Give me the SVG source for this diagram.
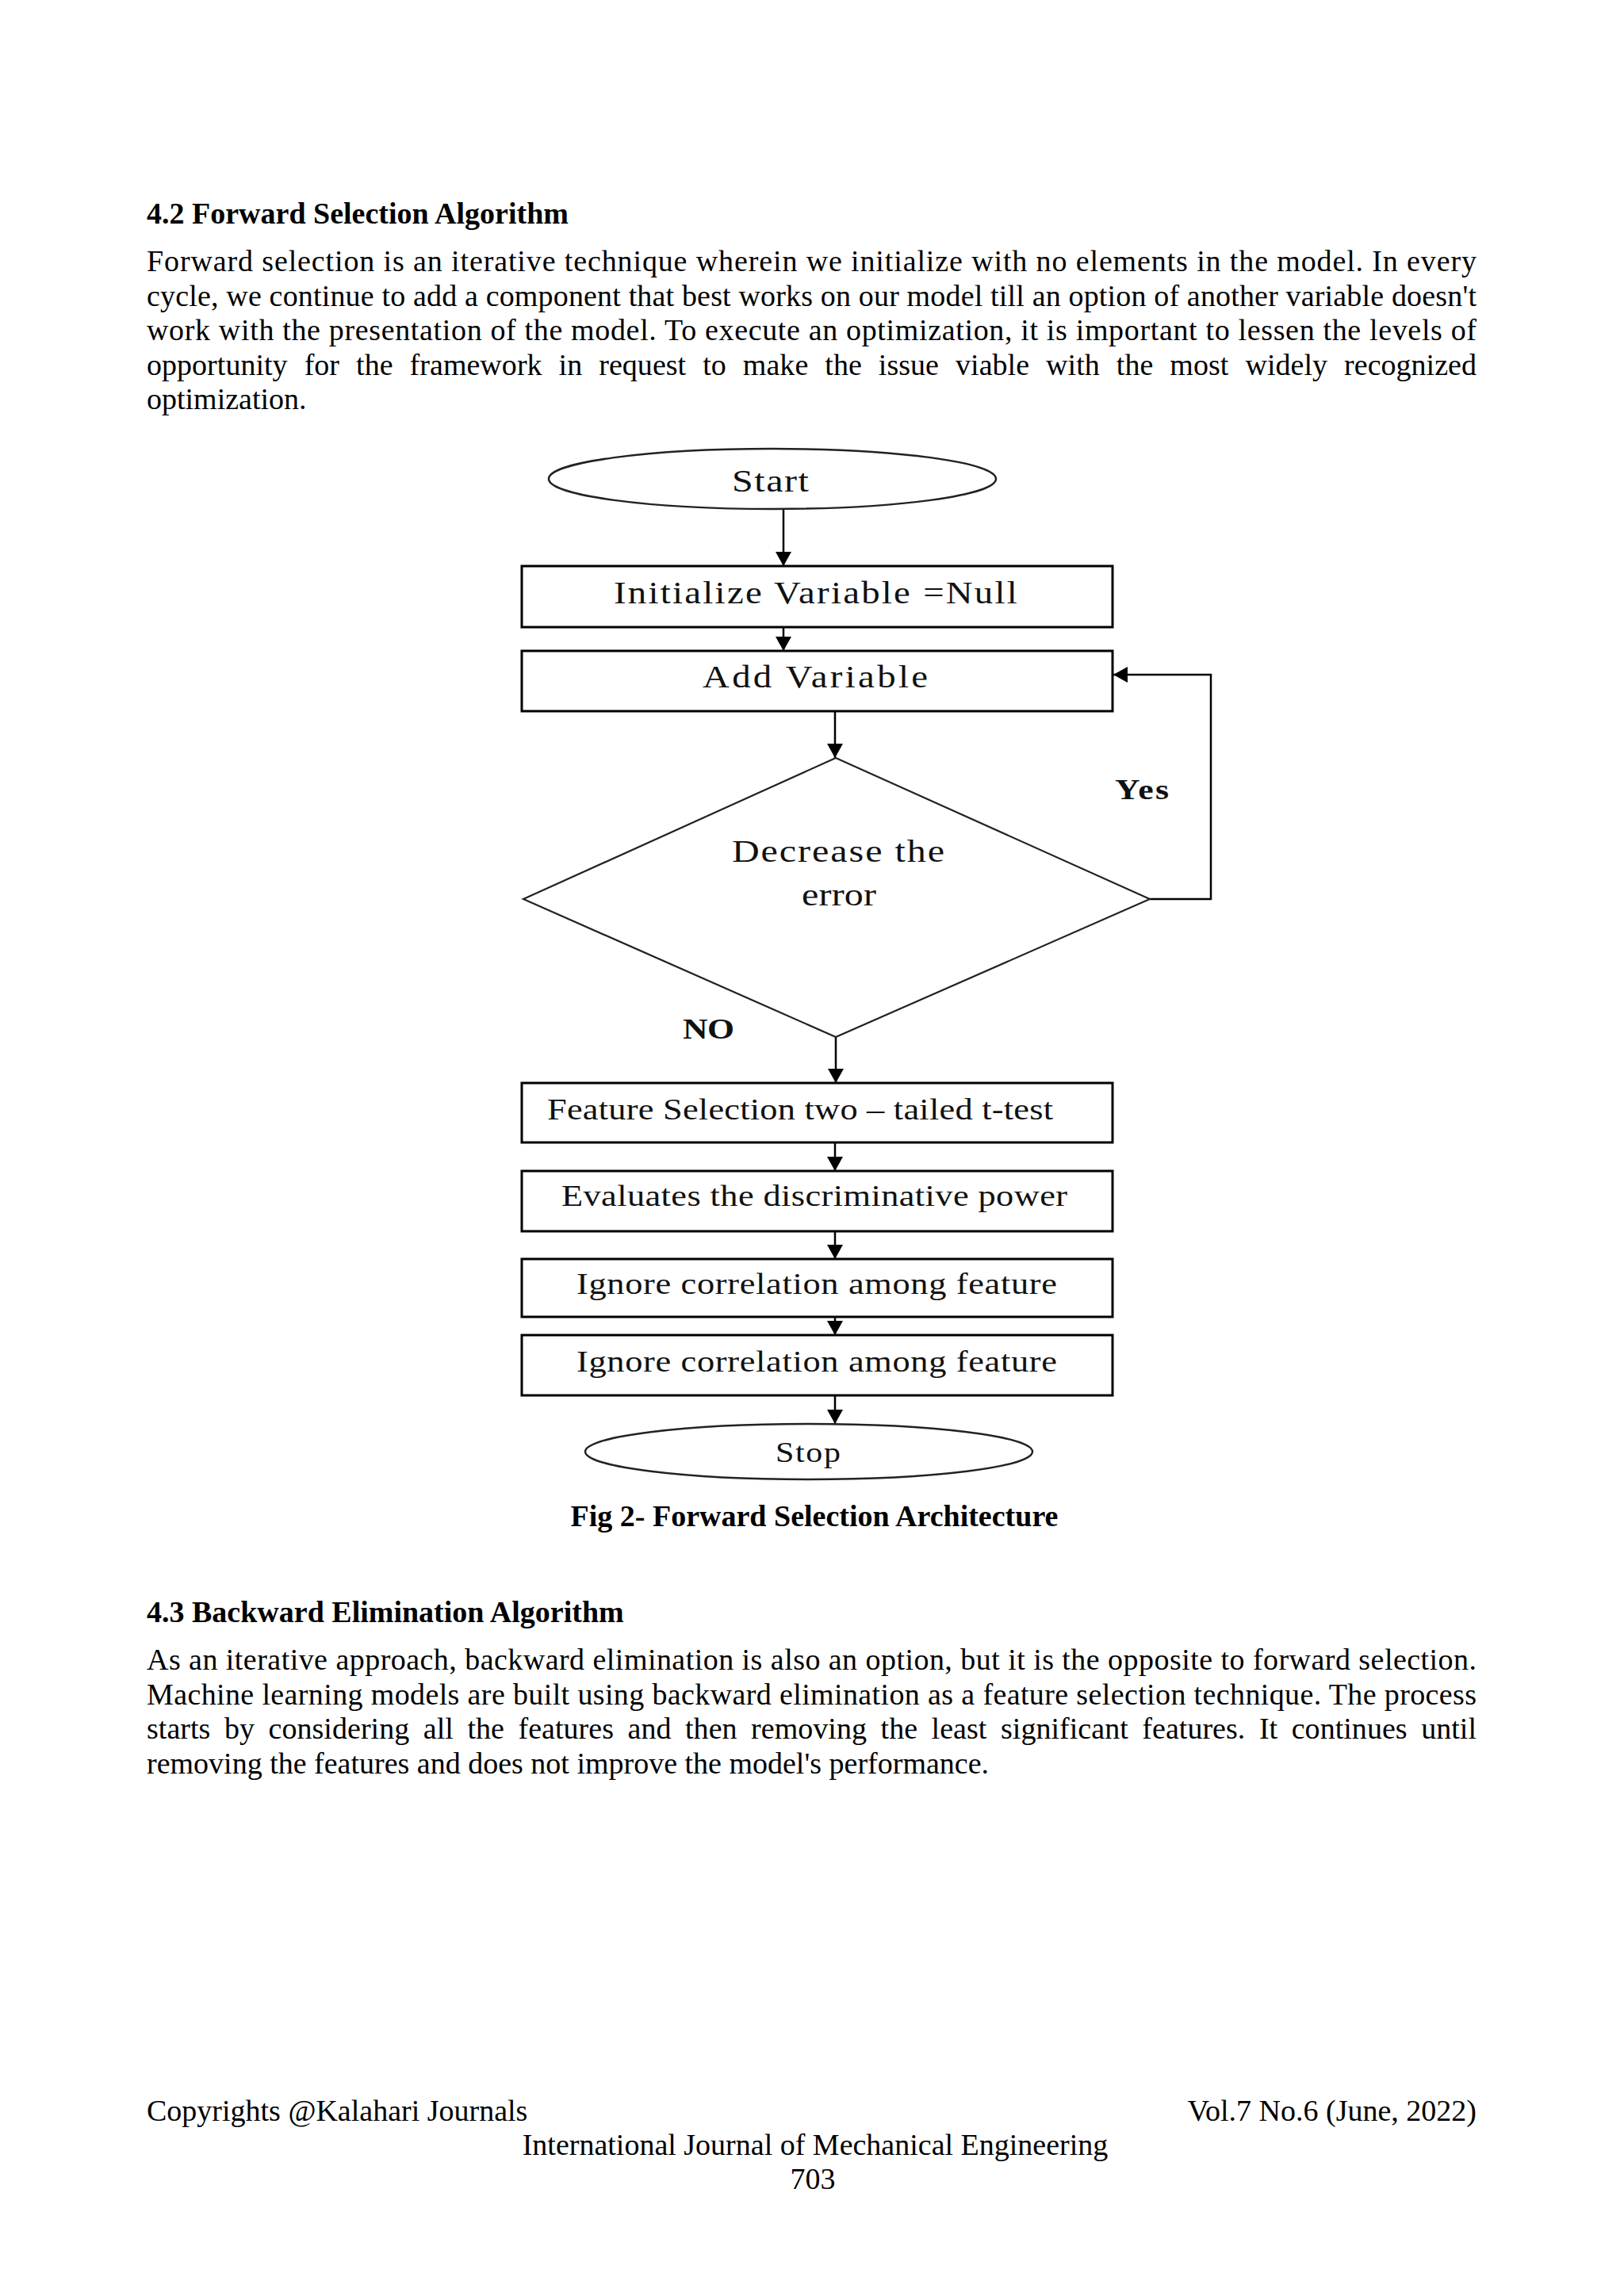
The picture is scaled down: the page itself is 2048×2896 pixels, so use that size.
<svg xmlns="http://www.w3.org/2000/svg" width="2048" height="2896" viewBox="0 0 2048 2896">
<style>
.body{font-family:"Liberation Serif","Times New Roman",serif;font-size:38px;fill:#000}
.bold{font-weight:bold}
.lbl{font-family:"Liberation Serif","Times New Roman",serif;fill:#111}
.box{fill:#fff;stroke:#000;stroke-width:3}
.oval{fill:#fff;stroke:#222;stroke-width:2.5}
.dia{fill:#fff;stroke:#222;stroke-width:2.2}
.con{fill:none;stroke:#000;stroke-width:2.5}
</style>
<defs>
<marker id="ah" viewBox="0 0 18 20" refX="18" refY="10" markerWidth="18" markerHeight="20" markerUnits="userSpaceOnUse" orient="auto">
<path d="M0,0 L18,10 L0,20 z" fill="#000"/>
</marker>
</defs>
<rect width="2048" height="2896" fill="#fff"/>

<g id="text-top">
<text class="body bold" x="185" y="282">4.2 Forward Selection Algorithm</text>
<text class="body" x="185" y="342" textLength="1677" lengthAdjust="spacing">Forward selection is an iterative technique wherein we initialize with no elements in the model. In every</text>
<text class="body" x="185" y="385.5" textLength="1677" lengthAdjust="spacing">cycle, we continue to add a component that best works on our model till an option of another variable doesn't</text>
<text class="body" x="185" y="429" textLength="1677" lengthAdjust="spacing">work with the presentation of the model. To execute an optimization, it is important to lessen the levels of</text>
<text class="body" x="185" y="472.5" word-spacing="11.5" textLength="1677" lengthAdjust="spacing">opportunity for the framework in request to make the issue viable with the most widely recognized</text>
<text class="body" x="185" y="516">optimization.</text>
</g>

<g id="connectors">
<line class="con" x1="988" y1="642" x2="988" y2="714" marker-end="url(#ah)"/>
<line class="con" x1="988" y1="791" x2="988" y2="821" marker-end="url(#ah)"/>
<line class="con" x1="1053" y1="897" x2="1053" y2="956" marker-end="url(#ah)"/>
<polyline class="con" points="1450,1134 1527,1134 1527,851 1404,851" marker-end="url(#ah)"/>
<line class="con" x1="1054" y1="1308" x2="1054" y2="1366" marker-end="url(#ah)"/>
<line class="con" x1="1053" y1="1441" x2="1053" y2="1477" marker-end="url(#ah)"/>
<line class="con" x1="1053" y1="1553" x2="1053" y2="1588" marker-end="url(#ah)"/>
<line class="con" x1="1053" y1="1661" x2="1053" y2="1684" marker-end="url(#ah)"/>
<line class="con" x1="1053" y1="1760" x2="1053" y2="1796" marker-end="url(#ah)"/>
<text class="lbl bold" transform="translate(1406,1008) scale(1.25,1)" font-size="35" textLength="54.4" lengthAdjust="spacing">Yes</text>
<text class="lbl bold" transform="translate(861,1310) scale(1.25,1)" font-size="35" textLength="52" lengthAdjust="spacing">NO</text>
</g>

<g id="node-start">
<ellipse class="oval" cx="974" cy="604" rx="282" ry="38"/>
<text class="lbl" transform="translate(923,620) scale(1.2,1)" font-size="40" textLength="80.8" lengthAdjust="spacing">Start</text>
</g>
<g id="node-init">
<rect class="box" x="658" y="714" width="745" height="77"/>
<text class="lbl" transform="translate(774,761) scale(1.2,1)" font-size="39" textLength="424" lengthAdjust="spacing">Initialize Variable =Null</text>
</g>
<g id="node-add">
<rect class="box" x="658" y="821" width="745" height="76"/>
<text class="lbl" transform="translate(886,867) scale(1.2,1)" font-size="39" textLength="236.7" lengthAdjust="spacing">Add Variable</text>
</g>
<g id="node-decision">
<polygon class="dia" points="1054,956 1450,1134 1054,1308 660,1134"/>
<text class="lbl" transform="translate(923,1087) scale(1.2,1)" font-size="40" textLength="223.3" lengthAdjust="spacing">Decrease the</text>
<text class="lbl" transform="translate(1011,1142) scale(1.2,1)" font-size="40" textLength="78.3" lengthAdjust="spacing">error</text>
</g>
<g id="node-feature">
<rect class="box" x="658" y="1366" width="745" height="75"/>
<text class="lbl" transform="translate(690,1412) scale(1.2,1)" font-size="37" textLength="531.7" lengthAdjust="spacing">Feature Selection two – tailed t-test</text>
</g>
<g id="node-evaluate">
<rect class="box" x="658" y="1477" width="745" height="76"/>
<text class="lbl" transform="translate(708,1521) scale(1.2,1)" font-size="37" textLength="531.7" lengthAdjust="spacing">Evaluates the discriminative power</text>
</g>
<g id="node-ignore1">
<rect class="box" x="658" y="1588" width="745" height="73"/>
<text class="lbl" transform="translate(727,1632) scale(1.2,1)" font-size="37" textLength="505" lengthAdjust="spacing">Ignore correlation among feature</text>
</g>
<g id="node-ignore2">
<rect class="box" x="658" y="1684" width="745" height="76"/>
<text class="lbl" transform="translate(727,1730) scale(1.2,1)" font-size="37" textLength="505" lengthAdjust="spacing">Ignore correlation among feature</text>
</g>
<g id="node-stop">
<ellipse class="oval" cx="1020" cy="1831" rx="282" ry="35"/>
<text class="lbl" transform="translate(978,1844) scale(1.2,1)" font-size="35" textLength="68.3" lengthAdjust="spacing">Stop</text>
</g>

<g id="text-bottom">
<text class="body bold" x="1027" y="1925" text-anchor="middle">Fig 2- Forward Selection Architecture</text>
<text class="body bold" x="185" y="2046">4.3 Backward Elimination Algorithm</text>
<text class="body" x="185" y="2106" textLength="1677" lengthAdjust="spacing">As an iterative approach, backward elimination is also an option, but it is the opposite to forward selection.</text>
<text class="body" x="185" y="2149.5" textLength="1677" lengthAdjust="spacing">Machine learning models are built using backward elimination as a feature selection technique. The process</text>
<text class="body" x="185" y="2193" word-spacing="8" textLength="1677" lengthAdjust="spacing">starts by considering all the features and then removing the least significant features. It continues until</text>
<text class="body" x="185" y="2236.5">removing the features and does not improve the model's performance.</text>
</g>

<g id="footer">
<text class="body" x="185" y="2675">Copyrights @Kalahari Journals</text>
<text class="body" x="1862" y="2675" text-anchor="end">Vol.7 No.6 (June, 2022)</text>
<text class="body" x="1028" y="2718" text-anchor="middle">International Journal of Mechanical Engineering</text>
<text class="body" x="1025" y="2761" text-anchor="middle">703</text>
</g>
</svg>
